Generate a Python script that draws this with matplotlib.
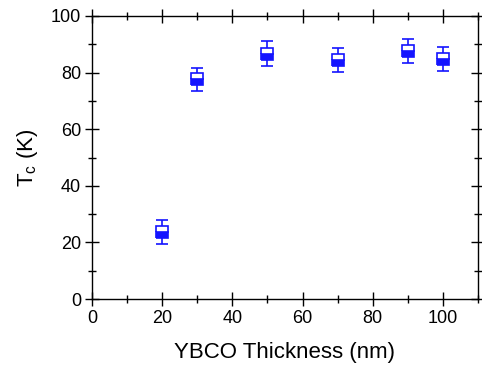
import matplotlib.pyplot as plt
from matplotlib.ticker import MultipleLocator

thickness = [20, 30, 50, 70, 90, 100]
tc = [23.7, 77.7, 86.7, 84.5, 87.6, 84.7]
tc_err = [4.2, 4.1, 4.4, 4.2, 4.3, 4.2]

plt.rcParams['font.family'] = ['Liberation Sans', 'DejaVu Sans']

fig = plt.figure(figsize=(4.82, 3.66), dpi=100)
ax = fig.add_axes([92 / 482, 1 - 299 / 366, 386 / 482, 283 / 366])

ax.errorbar(thickness, tc, yerr=tc_err, fmt='s', color='#1414ff',
            markersize=8.5, fillstyle='bottom', markerfacecoloralt='white',
            markeredgewidth=1.2, elinewidth=1.2, capsize=4, capthick=1.2)

ax.set_xlim(0, 110)
ax.set_ylim(0, 100)
ax.xaxis.set_major_locator(MultipleLocator(20))
ax.xaxis.set_minor_locator(MultipleLocator(10))
ax.yaxis.set_major_locator(MultipleLocator(20))
ax.yaxis.set_minor_locator(MultipleLocator(10))
ax.tick_params(which='major', direction='inout', length=10, width=1,
               top=True, right=True, labelsize=13, pad=3)
ax.tick_params(which='minor', direction='inout', length=6, width=1,
               top=True, right=True)
for s in ax.spines.values():
    s.set_linewidth(1)

ax.set_xlabel('YBCO Thickness (nm)', fontsize=16, labelpad=11)
ax.set_ylabel(r'T$_\mathregular{c}$ (K)', fontsize=16, labelpad=8)

fig.savefig('out.png', dpi=100)
